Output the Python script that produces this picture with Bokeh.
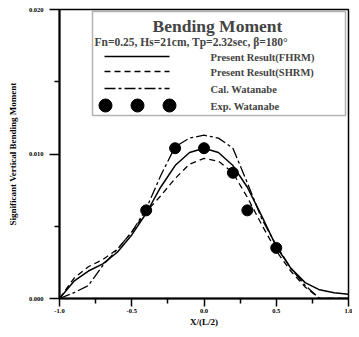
from bokeh.plotting import figure
from bokeh.models import Range1d, FixedTicker, NumeralTickFormatter, BoxAnnotation, Label
from bokeh.embed import file_html
from bokeh.resources import INLINE

# ---------------- data ----------------
x_stations = [-1.0, -0.9, -0.8, -0.7, -0.6, -0.5, -0.4, -0.3, -0.2, -0.1, 0.0,
              0.1, 0.2, 0.3, 0.4, 0.5, 0.6, 0.7, 0.8, 0.9, 1.0]
fhrm = [0.0, 0.0012, 0.0019, 0.0024, 0.0032, 0.0044, 0.0059, 0.0077, 0.0092, 0.0101, 0.0104,
        0.0101, 0.0092, 0.0077, 0.0057, 0.0036, 0.0021, 0.0011, 0.0006, 0.0004, 0.0003]
shrm = [0.0, 0.0014, 0.0022, 0.0027, 0.0034, 0.0046, 0.0060, 0.0071, 0.0083, 0.0093, 0.0097,
        0.0095, 0.0087, 0.0070, 0.0051, 0.0033, 0.0019, 0.0008, 0.0, 0.0, 0.0]
cal_watanabe = [0.0, 0.0004, 0.0009, 0.0023, 0.0034, 0.0046, 0.0062, 0.0085, 0.0105, 0.0111, 0.0113,
                0.0111, 0.0104, 0.0080, 0.0055, 0.0037, 0.0021, 0.0009, 0.0, 0.0, 0.0]
exp_x = [-0.4, -0.2, 0.0, 0.2, 0.3, 0.5]
exp_y = [0.0061, 0.0104, 0.0104, 0.0087, 0.0061, 0.0035]

x_major = [-1.0, -0.5, 0.0, 0.5, 1.0]
x_minor = [-0.75, -0.25, 0.25, 0.75]
y_major = [0.0, 0.010, 0.020]
y_minor = [0.005, 0.015]

title_text = "Bending Moment"
subtitle_text = "Fn=0.25, Hs=21cm, Tp=2.32sec, \u03b2=180\u00b0"
series_labels = ["Present Result(FHRM)", "Present Result(SHRM)", "Cal. Watanabe", "Exp. Watanabe"]

# ---------------- figure ----------------
FONT = "Liberation Serif"
p = figure(frame_width=289, frame_height=289, output_backend="svg", toolbar_location=None,
           x_range=Range1d(-1.0, 1.0), y_range=Range1d(0.0, 0.02),
           min_border_left=59, min_border_right=4, min_border_top=9, min_border_bottom=30)
p.xgrid.visible = False
p.ygrid.visible = False
p.outline_line_color = "black"
p.outline_line_width = 1.5
p.background_fill_color = "white"

p.xaxis.ticker = FixedTicker(ticks=x_major, minor_ticks=x_minor)
p.yaxis.ticker = FixedTicker(ticks=y_major, minor_ticks=y_minor)
p.xaxis.formatter = NumeralTickFormatter(format="0.0")
p.yaxis.formatter = NumeralTickFormatter(format="0.000")
for ax in (p.xaxis[0], p.yaxis[0]):
    ax.axis_line_color = "black"
    ax.axis_line_width = 2
    ax.major_tick_line_color = "black"
    ax.major_tick_line_width = 1.5
    ax.minor_tick_line_color = "black"
    ax.minor_tick_line_width = 1.5
    ax.major_tick_in = 0
    ax.minor_tick_in = 0
    ax.major_label_text_font = FONT
    ax.major_label_text_font_style = "bold"
    ax.major_label_text_font_size = "6.5px"
    ax.axis_label_text_font = FONT
    ax.axis_label_text_font_style = "bold"
    ax.axis_label_text_color = "black"
    ax.major_label_text_color = "black"

p.yaxis.major_tick_out = 10
p.yaxis.minor_tick_out = 5
p.yaxis.major_label_standoff = 6
p.yaxis.axis_label = "Significant Vertical Bending Moment"
p.yaxis.axis_label_text_font_size = "9px"
p.yaxis.axis_label_standoff = 8

p.xaxis.major_tick_out = 8
p.xaxis.minor_tick_out = 5
p.xaxis.major_label_standoff = 2
p.xaxis.axis_label = "X/(L/2)"
p.xaxis.axis_label_text_font_size = "9px"
p.xaxis.axis_label_standoff = 1

# ---------------- data marks ----------------
p.line(x_stations, fhrm, line_color="black", line_width=1.5)
p.line(x_stations, shrm, line_color="black", line_width=1.3, line_dash="6 4")
p.line(x_stations, cal_watanabe, line_color="black", line_width=1.3, line_dash="11 3 3 3")
p.scatter(exp_x, exp_y, marker="circle", size=11, fill_color="black", line_color="black")

# ---------------- legend (layout in window pixels) ----------------
def dx(px):
    return -1.0 + (px - 62.0) / 289.0 * 2.0

def dy(py):
    return (300.0 - py) / 289.0 * 0.02

p.add_layout(BoxAnnotation(left=dx(95), right=dx(348), top=dy(13), bottom=dy(117),
                           fill_alpha=0, line_color="black", line_width=1.5, level="overlay"))
p.add_layout(Label(x=dx(155), y=dy(27), text=title_text, text_font=FONT, text_font_style="bold",
                   text_font_size="17.5px", text_baseline="middle", text_align="left"))
p.add_layout(Label(x=dx(97), y=dy(43), text=subtitle_text, text_font=FONT, text_font_style="bold",
                   text_font_size="11.5px", text_baseline="middle", text_align="left"))

row_y = [58, 73, 90, 107]
p.line([dx(107), dx(172)], [dy(row_y[0])] * 2, line_color="black", line_width=1.5)
p.line([dx(107), dx(172)], [dy(row_y[1])] * 2, line_color="black", line_width=1.3, line_dash="6 4")
p.line([dx(107), dx(172)], [dy(row_y[2])] * 2, line_color="black", line_width=1.3, line_dash="11 3 3 3")
p.scatter([dx(108), dx(140), dx(172)], [dy(row_y[3])] * 3, marker="circle", size=13,
          fill_color="black", line_color="black")
for lab, ry in zip(series_labels, row_y):
    p.add_layout(Label(x=dx(213), y=dy(ry + 1), text=lab, text_font=FONT, text_font_style="bold",
                       text_font_size="10.5px", text_baseline="middle", text_align="left"))

open("out.html", "w").write(file_html(p, INLINE))
